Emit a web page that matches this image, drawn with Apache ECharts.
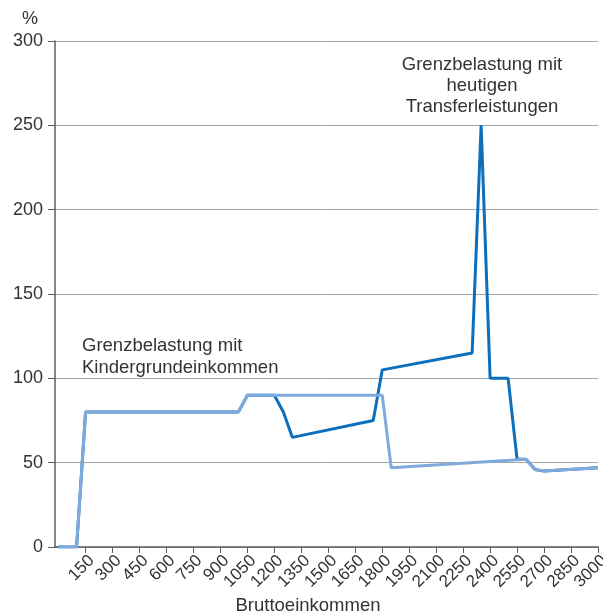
<!DOCTYPE html>
<html>
<head>
<meta charset="utf-8">
<script src="https://cdn.jsdelivr.net/npm/echarts@6/dist/echarts.min.js"></script>
<style>
  html, body { margin: 0; padding: 0; background: #fff; }
  #chart { width: 603px; height: 614px; }
</style>
</head>
<body>
<div id="chart"></div>
<script>
// Gross income breakpoints and marginal burden (%) for each scenario
const incomeToday = [0, 50, 100, 150, 1000, 1050, 1200, 1250, 1300, 1750, 1800, 2300, 2350, 2400, 2500, 2550, 2600, 2650, 2700, 3000];
const burdenToday = [0, 0, 0, 80, 80, 90, 90, 80, 65, 75, 105, 115, 250, 100, 100, 52, 52, 46, 45, 47];

const incomeChild = [0, 50, 100, 150, 1000, 1050, 1800, 1850, 2600, 2650, 2700, 3000];
const burdenChild = [0, 0, 0, 80, 80, 90, 90, 47, 52, 46, 45, 47];

const xTicks = [150, 300, 450, 600, 750, 900, 1050, 1200, 1350, 1500, 1650, 1800, 1950, 2100, 2250, 2400, 2550, 2700, 2850, 3000];
const yTicks = [0, 50, 100, 150, 200, 250, 300];

const pairs = (xs, ys) => xs.map((x, i) => [x, ys[i]]);
const FONT = '"Liberation Sans", Arial, sans-serif';

const chart = echarts.init(document.getElementById('chart'), null, { renderer: 'canvas' });

chart.setOption({
  animation: false,
  backgroundColor: '#ffffff',
  grid: { left: 55, right: 5, top: 41, bottom: 67, containLabel: false, outerBoundsMode: 'none' },
  xAxis: {
    type: 'value',
    min: -20,
    max: 3000,
    axisLine: { show: true, onZero: false, lineStyle: { color: '#5c5c5c', width: 1.5 } },
    axisTick: { show: true, customValues: xTicks, length: 6, lineStyle: { color: '#5c5c5c', width: 1 } },
    axisLabel: {
      customValues: xTicks,
      formatter: (v) => String(v),
      rotate: 45,
      margin: 5,
      align: 'right',
      verticalAlign: 'top',
      color: '#333333',
      fontSize: 17,
      fontFamily: FONT
    },
    splitLine: { show: false }
  },
  yAxis: {
    type: 'value',
    min: 0,
    max: 300,
    interval: 50,
    axisLine: { show: true, onZero: false, lineStyle: { color: '#5c5c5c', width: 1.5 } },
    axisTick: { show: true, inside: false, length: 7, lineStyle: { color: '#5c5c5c', width: 1 } },
    axisLabel: {
      customValues: yTicks,
      margin: 12, color: '#333333', fontSize: 18, fontFamily: FONT
    },
    splitLine: { show: true, lineStyle: { color: '#a6a6a6', width: 1 } }
  },
  series: [
    {
      name: 'Grenzbelastung mit heutigen Transferleistungen',
      type: 'line',
      data: pairs(incomeToday, burdenToday),
      showSymbol: false,
      symbol: 'none',
      lineStyle: { color: '#0b6fbd', width: 3 },
      z: 2
    },
    {
      name: 'Grenzbelastung mit Kindergrundeinkommen',
      type: 'line',
      data: pairs(incomeChild, burdenChild),
      showSymbol: false,
      symbol: 'none',
      lineStyle: { color: '#80aadc', width: 3 },
      z: 3
    }
  ],
  graphic: [
    {
      type: 'text', left: 22, top: 10,
      style: { text: '%', fontSize: 18, fontFamily: FONT, fill: '#333333' }
    },
    {
      type: 'text', x: 482, y: 54,
      style: {
        text: 'Grenzbelastung mit\nheutigen\nTransferleistungen',
        fontSize: 18.5, lineHeight: 21, fontFamily: FONT, fill: '#333333',
        align: 'center', verticalAlign: 'top'
      }
    },
    {
      type: 'text', x: 82, y: 335,
      style: {
        text: 'Grenzbelastung mit\nKindergrundeinkommen',
        fontSize: 18.5, lineHeight: 22, fontFamily: FONT, fill: '#333333',
        align: 'left', verticalAlign: 'top'
      }
    },
    {
      type: 'text', x: 308, y: 596,
      style: {
        text: 'Bruttoeinkommen',
        fontSize: 18.5, fontFamily: FONT, fill: '#333333',
        align: 'center', verticalAlign: 'top'
      }
    }
  ]
});
</script>
</body>
</html>
